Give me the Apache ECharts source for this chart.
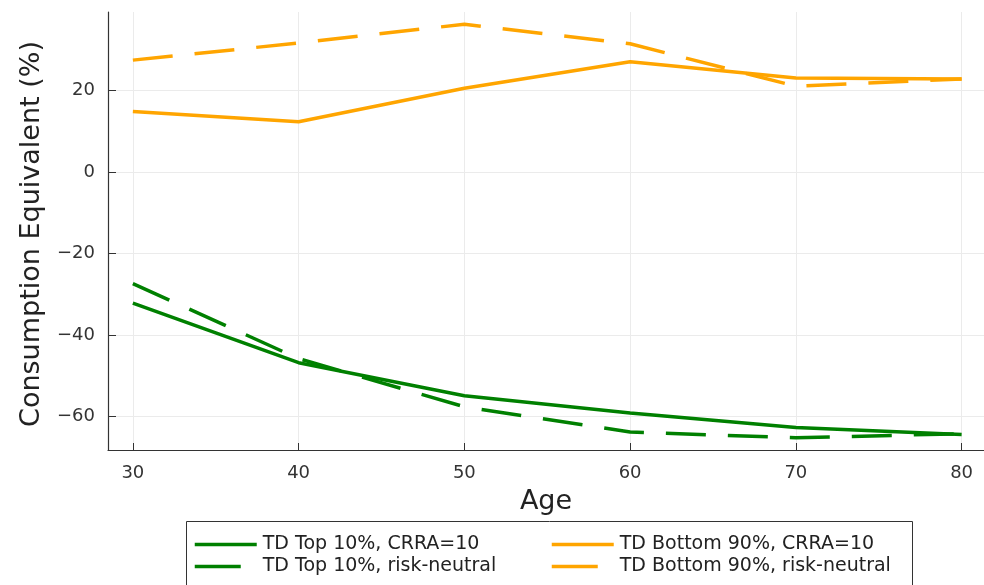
<!DOCTYPE html>
<html>
<head>
<meta charset="utf-8">
<script src="https://cdn.jsdelivr.net/npm/echarts@6/dist/echarts.min.js"></script>
<style>
  html, body { margin: 0; padding: 0; background: #fff; }
  #main { width: 984px; height: 585px; }
</style>
</head>
<body>
<div id="main"></div>
<script>
var myChart = echarts.init(document.getElementById('main'));

// ages on the x axis
var ages = [30, 40, 50, 60, 70, 80];
// consumption equivalent (%)
var topCRRA = [-32.2, -46.8, -54.9, -59.1, -62.7, -64.4];
var topNeutral = [-27.4, -45.8, -57.6, -63.8, -65.2, -64.2];
var bottomCRRA = [14.8, 12.3, 20.5, 27.0, 23.0, 22.8];
var bottomNeutral = [27.4, 31.6, 36.2, 31.4, 21.0, 22.8];

var xTicks = [30, 40, 50, 60, 70, 80];
var yTicks = [-60, -40, -20, 0, 20];

var GREEN = '#008000';
var ORANGE = '#FFA500';
var FONT = 'DejaVu Sans';

function pairs(ys) {
    var out = [];
    for (var i = 0; i < ages.length; i++) out.push([ages[i], ys[i]]);
    return out;
}

// julia style minus sign on negative ticks
function minus(v) {
    return v < 0 ? '\u2212' + (-v) : String(v);
}

function makeSeries(name, ys, color, dashed) {
    return {
        name: name,
        type: 'line',
        data: pairs(ys),
        showSymbol: false,
        symbol: 'none',
        silent: true,
        lineStyle: {
            color: color,
            width: 3.5,
            type: dashed ? [40, 22] : 'solid'
        },
        itemStyle: { color: color }
    };
}

var legendText = { fontFamily: FONT, fontSize: 19, color: '#222', lineHeight: 19, padding: [0, 0, 0, 1] };

function makeLegend(left, names) {
    return {
        orient: 'vertical',
        left: left,
        top: 535,
        padding: 0,
        itemWidth: 62,
        itemHeight: 14,
        itemGap: 3,
        selectedMode: false,
        textStyle: legendText,
        itemStyle: { opacity: 0 },
        lineStyle: { width: 3.5 },
        data: [
            { name: names[0] },
            { name: names[1], lineStyle: { width: 3.5, type: [46, 40] } }
        ]
    };
}

option = {
    animation: false,
    backgroundColor: '#fff',
    grid: { left: 108, right: 0, top: 12, bottom: 135, containLabel: false },
    xAxis: {
        type: 'value',
        min: 28.5,
        max: 81.35,
        name: 'Age',
        nameLocation: 'middle',
        nameGap: 38,
        nameTextStyle: { fontFamily: FONT, fontSize: 27, color: '#222' },
        axisLine: { show: true, onZero: false, lineStyle: { color: '#333', width: 1.2 } },
        axisTick: { show: true, inside: true, length: 7, customValues: xTicks, lineStyle: { color: '#333' } },
        axisLabel: { customValues: xTicks, fontFamily: FONT, fontSize: 18, color: '#333', margin: 14 },
        splitLine: { show: true, lineStyle: { color: '#ebebeb', width: 1 } }
    },
    yAxis: {
        type: 'value',
        min: -68.2,
        max: 39.2,
        name: 'Consumption Equivalent (%)',
        nameLocation: 'middle',
        nameGap: 63,
        nameTextStyle: { fontFamily: FONT, fontSize: 27, color: '#222', padding: [0, 6, 0, 0] },
        axisLine: { show: true, onZero: false, lineStyle: { color: '#333', width: 1.2 } },
        axisTick: { show: true, inside: true, length: 8, customValues: yTicks, lineStyle: { color: '#333' } },
        axisLabel: { customValues: yTicks, fontFamily: FONT, fontSize: 18, color: '#333', margin: 13, formatter: minus },
        splitLine: { show: true, lineStyle: { color: '#ebebeb', width: 1 } }
    },
    legend: [
        makeLegend(193, ['TD Top 10%, CRRA=10', 'TD Top 10%, risk-neutral']),
        makeLegend(550, ['TD Bottom 90%, CRRA=10', 'TD Bottom 90%, risk-neutral'])
    ],
    graphic: [
        {
            type: 'rect',
            left: 184,
            top: 519,
            shape: { width: 726, height: 64 },
            style: { fill: 'none', stroke: '#333', lineWidth: 1 },
            silent: true
        }
    ],
    series: [
        makeSeries('TD Top 10%, CRRA=10', topCRRA, GREEN, false),
        makeSeries('TD Top 10%, risk-neutral', topNeutral, GREEN, true),
        makeSeries('TD Bottom 90%, CRRA=10', bottomCRRA, ORANGE, false),
        makeSeries('TD Bottom 90%, risk-neutral', bottomNeutral, ORANGE, true)
    ]
};

myChart.setOption(option);
</script>
</body>
</html>
